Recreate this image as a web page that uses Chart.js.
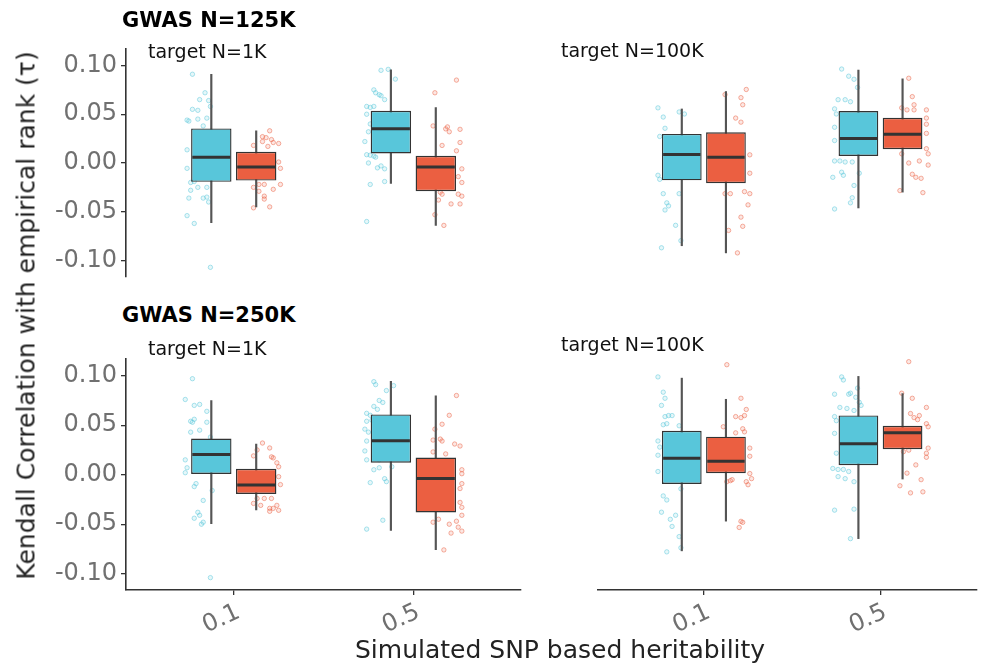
<!DOCTYPE html>
<html><head><meta charset="utf-8">
<script src="https://cdn.jsdelivr.net/npm/chart.js@4.4.1/dist/chart.umd.min.js"></script>
<style>
html,body{margin:0;padding:0;background:#fff;overflow:hidden;width:982px;height:665px;position:relative;}
canvas{position:absolute;}
.t{position:absolute;font-family:"DejaVu Sans",sans-serif;white-space:nowrap;}
.gw{font-size:21px;line-height:21px;font-weight:bold;color:#000;}
.tg{font-size:19px;line-height:19px;color:#111;}
.ax{font-size:25px;line-height:25px;color:#222;}
</style></head><body>
<canvas id="c1" width="526" height="265" style="left:0;top:30px"></canvas>
<canvas id="c2" width="389" height="265" style="left:593px;top:30px"></canvas>
<canvas id="c3" width="526" height="325" style="left:0;top:340px"></canvas>
<canvas id="c4" width="389" height="325" style="left:593px;top:340px"></canvas>
<div class="t gw" style="left:122px;top:10px">GWAS N=125K</div>
<div class="t gw" style="left:122px;top:305px">GWAS N=250K</div>
<div class="t tg" style="left:148px;top:42px">target N=1K</div>
<div class="t tg" style="left:561px;top:41px">target N=100K</div>
<div class="t tg" style="left:148px;top:339px">target N=1K</div>
<div class="t tg" style="left:561px;top:335px">target N=100K</div>
<div class="t ax" style="left:355px;top:637px">Simulated SNP based heritability</div>
<div class="t ax" style="left:-274px;top:303px;width:600px;text-align:center;transform:rotate(-90deg);">Kendall Correlation with empirical rank (τ)</div>
<script>
// ---- data ----
const heritability = ['0.1', '0.5'];
const xTickValues = [1, 2];
const yTicks = [-0.1, -0.05, 0, 0.05, 0.1];

// box stats per heritability: [lower whisker, Q1, median, Q3, upper whisker]
const box125K_1K_blue   = [[-0.0613, -0.0193, 0.0059, 0.0354, 0.091], [-0.021, 0.0098, 0.035, 0.0535, 0.0955]];
const box125K_1K_red    = [[-0.045, -0.018, -0.004, 0.0115, 0.033], [-0.064, -0.029, -0.004, 0.0073, 0.0568]];
const box125K_100K_blue = [[-0.081, -0.017, 0.0083, 0.0285, 0.0529], [-0.044, 0.0069, 0.024, 0.0509, 0.091]];
const box125K_100K_red  = [[-0.088, -0.0197, 0.0056, 0.030, 0.070], [-0.0285, 0.0135, 0.0282, 0.0443, 0.0824]];
const box250K_1K_blue   = [[-0.0494, 0.0007, 0.0205, 0.0365, 0.0749], [-0.0563, 0.0121, 0.0342, 0.0609, 0.0944]];
const box250K_1K_red    = [[-0.0357, -0.0195, -0.0104, 0.0059, 0.031], [-0.0758, -0.0381, -0.0039, 0.0173, 0.0798]];
const box250K_100K_blue = [[-0.078, -0.0123, 0.0131, 0.040, 0.0918], [-0.066, 0.0062, 0.0273, 0.0551, 0.0935]];
const box250K_100K_red  = [[-0.0488, -0.0016, 0.0101, 0.0342, 0.071], [-0.0074, 0.0219, 0.0381, 0.0449, 0.0766]];

// jittered observations: [offset from heritability position, tau]
const pts125K_1K_blue_h01 = [[-0.23,0.091],[-0.16,0.072],[-0.19,0.065],[-0.14,0.064],[-0.23,0.055],[-0.20,0.054],[-0.13,0.058],[-0.26,0.044],[-0.25,0.043],[-0.20,0.045],[-0.15,0.046],[-0.17,0.038],[-0.26,0.0135],[-0.26,-0.0055],[-0.24,-0.020],[-0.22,-0.019],[-0.20,-0.025],[-0.15,-0.025],[-0.24,-0.028],[-0.25,-0.036],[-0.17,-0.036],[-0.15,-0.035],[-0.14,-0.040],[-0.26,-0.054],[-0.22,-0.062],[-0.13,-0.107]];
const pts125K_1K_red_h01 = [[0.20,0.033],[0.16,0.027],[0.18,0.026],[0.21,0.024],[0.22,0.021],[0.25,0.020],[0.11,0.018],[0.16,0.022],[0.19,0.017],[0.26,-0.0055],[0.25,0.001],[0.11,-0.025],[0.14,-0.022],[0.17,-0.022],[0.22,-0.027],[0.26,-0.022],[0.17,-0.034],[0.17,-0.037],[0.11,-0.046],[0.20,-0.045],[0.14,-0.029]];
const pts125K_1K_blue_h05 = [[-0.18,0.095],[-0.14,0.096],[-0.10,0.086],[-0.22,0.075],[-0.21,0.072],[-0.19,0.070],[-0.18,0.069],[-0.16,0.065],[-0.26,0.058],[-0.24,0.057],[-0.22,0.058],[-0.26,0.050],[-0.24,0.040],[-0.25,0.032],[-0.27,0.022],[-0.26,0.0085],[-0.24,0.008],[-0.22,0.007],[-0.21,0.006],[-0.25,0.0],[-0.20,-0.005],[-0.18,-0.003],[-0.16,-0.006],[-0.16,-0.019],[-0.24,-0.022],[-0.26,-0.060]];
const pts125K_1K_red_h05 = [[0.24,0.085],[0.12,0.072],[0.11,0.038],[0.19,0.037],[0.18,0.035],[0.20,0.032],[0.26,0.0345],[0.26,0.021],[0.16,0.018],[0.24,0.0125],[0.27,-0.006],[0.25,-0.014],[0.27,-0.020],[0.15,-0.030],[0.16,-0.032],[0.25,-0.032],[0.27,-0.034],[0.14,-0.038],[0.21,-0.042],[0.26,-0.042],[0.12,-0.053],[0.17,-0.064]];
const pts125K_100K_blue_h01 = [[-0.26,0.054],[-0.23,0.045],[-0.14,0.050],[-0.11,0.048],[-0.22,0.034],[-0.25,0.026],[-0.26,-0.012],[-0.25,-0.016],[-0.23,-0.030],[-0.21,-0.039],[-0.20,-0.042],[-0.22,-0.046],[-0.16,-0.061],[-0.24,-0.083],[-0.13,-0.076],[-0.14,-0.030]];
const pts125K_100K_red_h01 = [[0.24,0.072],[0.12,0.067],[0.21,0.064],[0.22,0.057],[0.18,0.044],[0.21,0.040],[0.26,0.008],[0.26,-0.010],[0.12,-0.030],[0.15,-0.030],[0.23,-0.028],[0.26,-0.030],[0.25,-0.041],[0.21,-0.053],[0.22,-0.062],[0.14,-0.066],[0.19,-0.088]];
const pts125K_100K_blue_h05 = [[-0.22,0.092],[-0.18,0.085],[-0.15,0.082],[-0.13,0.074],[-0.24,0.062],[-0.20,0.062],[-0.17,0.060],[-0.26,0.053],[-0.25,0.048],[-0.26,0.035],[-0.26,0.022],[-0.26,0.002],[-0.23,0.002],[-0.20,0.001],[-0.16,0.001],[-0.22,-0.009],[-0.21,-0.012],[-0.27,-0.014],[-0.12,-0.010],[-0.15,-0.022],[-0.16,-0.034],[-0.17,-0.039],[-0.26,-0.045]];
const pts125K_100K_red_h05 = [[0.16,0.083],[0.18,0.065],[0.19,0.057],[0.12,0.054],[0.15,0.052],[0.19,0.052],[0.26,0.052],[0.26,0.044],[0.26,0.038],[0.26,0.029],[0.26,0.014],[0.27,0.009],[0.12,0.009],[0.16,0.000],[0.22,0.002],[0.27,-0.002],[0.18,-0.011],[0.20,-0.014],[0.23,-0.015],[0.11,-0.027],[0.24,-0.029]];
const pts250K_1K_blue_h01 = [[-0.23,0.097],[-0.27,0.076],[-0.22,0.070],[-0.19,0.071],[-0.15,0.064],[-0.24,0.054],[-0.23,0.053],[-0.22,0.056],[-0.15,0.053],[-0.24,0.043],[-0.19,0.045],[-0.13,0.038],[-0.27,0.015],[-0.26,0.007],[-0.27,0.002],[-0.21,-0.009],[-0.22,-0.012],[-0.12,-0.016],[-0.17,-0.026],[-0.20,-0.038],[-0.19,-0.041],[-0.22,-0.044],[-0.18,-0.050],[-0.17,-0.048],[-0.13,-0.104]];
const pts250K_1K_red_h01 = [[0.16,0.032],[0.13,0.025],[0.11,0.019],[0.20,0.027],[0.21,0.018],[0.22,0.017],[0.24,0.012],[0.25,0.008],[0.25,-0.002],[0.26,-0.010],[0.13,-0.024],[0.17,-0.024],[0.21,-0.024],[0.11,-0.029],[0.15,-0.031],[0.24,-0.031],[0.22,-0.034],[0.20,-0.034],[0.25,-0.036],[0.20,-0.037]];
const pts250K_1K_blue_h05 = [[-0.22,0.094],[-0.21,0.091],[-0.11,0.090],[-0.15,0.085],[-0.19,0.075],[-0.17,0.073],[-0.22,0.069],[-0.20,0.066],[-0.26,0.062],[-0.24,0.060],[-0.26,0.054],[-0.23,0.055],[-0.27,0.046],[-0.25,0.043],[-0.26,0.034],[-0.27,0.024],[-0.26,0.015],[-0.22,0.017],[-0.19,0.015],[-0.22,0.005],[-0.19,0.007],[-0.12,0.008],[-0.16,-0.004],[-0.15,-0.007],[-0.24,-0.008],[-0.17,-0.046],[-0.26,-0.055]];
const pts250K_1K_red_h05 = [[0.24,0.080],[0.20,0.060],[0.16,0.051],[0.12,0.046],[0.11,0.035],[0.15,0.036],[0.16,0.034],[0.23,0.031],[0.26,0.029],[0.11,0.023],[0.18,0.021],[0.27,0.005],[0.27,0.001],[0.27,-0.009],[0.26,-0.014],[0.26,-0.028],[0.27,-0.033],[0.27,-0.041],[0.11,-0.048],[0.14,-0.045],[0.20,-0.050],[0.24,-0.047],[0.25,-0.053],[0.27,-0.057],[0.21,-0.059],[0.17,-0.076]];
const pts250K_100K_blue_h01 = [[-0.26,0.093],[-0.23,0.078],[-0.22,0.072],[-0.24,0.065],[-0.22,0.054],[-0.20,0.055],[-0.18,0.055],[-0.23,0.046],[-0.21,0.047],[-0.14,0.045],[-0.26,0.030],[-0.25,0.024],[-0.26,0.016],[-0.26,0.000],[-0.23,-0.024],[-0.21,-0.028],[-0.24,-0.040],[-0.16,-0.043],[-0.19,-0.047],[-0.18,-0.054],[-0.14,-0.064],[-0.13,-0.075],[-0.21,-0.079],[-0.13,-0.017]];
const pts250K_100K_red_h01 = [[0.13,0.105],[0.21,0.072],[0.24,0.061],[0.18,0.054],[0.21,0.053],[0.23,0.055],[0.11,0.044],[0.22,0.042],[0.23,0.039],[0.18,0.038],[0.26,0.023],[0.26,0.015],[0.26,-0.002],[0.27,-0.007],[0.13,-0.010],[0.15,-0.009],[0.16,-0.008],[0.24,-0.010],[0.25,-0.013],[0.21,-0.049],[0.22,-0.050],[0.20,-0.055]];
const pts250K_100K_blue_h05 = [[-0.22,0.093],[-0.21,0.090],[-0.13,0.082],[-0.18,0.076],[-0.17,0.077],[-0.26,0.076],[-0.14,0.073],[-0.12,0.068],[-0.11,0.065],[-0.15,0.060],[-0.23,0.063],[-0.19,0.062],[-0.26,0.054],[-0.25,0.050],[-0.26,0.0375],[-0.25,0.018],[-0.27,0.003],[-0.24,0.002],[-0.21,0.002],[-0.18,0.000],[-0.24,-0.005],[-0.20,-0.007],[-0.15,-0.010],[-0.15,-0.037],[-0.26,-0.038],[-0.17,-0.066]];
const pts250K_100K_red_h05 = [[0.16,0.108],[0.12,0.077],[0.18,0.072],[0.17,0.057],[0.19,0.053],[0.21,0.051],[0.22,0.055],[0.26,0.063],[0.26,0.047],[0.27,0.044],[0.27,0.023],[0.26,0.018],[0.26,0.014],[0.13,0.0195],[0.16,0.021],[0.20,0.0065],[0.15,-0.0016],[0.23,-0.008],[0.11,-0.014],[0.17,-0.021],[0.24,-0.020]];

// ---- styling / drawing ----
Chart.defaults.font.family = '"DejaVu Sans", sans-serif';
const BLUE = 'rgb(88,198,218)', RED = 'rgb(235,95,65)';
const BLUE_PT_FILL = 'rgba(88,198,218,0.15)', BLUE_PT_LINE = 'rgba(88,198,218,0.55)';
const RED_PT_FILL = 'rgba(235,95,65,0.15)', RED_PT_LINE = 'rgba(235,95,65,0.55)';
const DODGE = 0.125;     // half distance between the two boxes (axis units)
const BOX_HALF = 0.1125; // half box width (axis units)

function jitterSet(arr, cat, fill, line) {
  return { type: 'scatter', order: 4, data: arr.map(([dx, y]) => ({ x: cat + dx, y })),
    pointRadius: 2.2, pointBackgroundColor: fill, pointBorderColor: line, pointBorderWidth: 0.9 };
}

function makePanel(id, boxBlue, boxRed, ptsBlue, ptsRed, showY, showX, xMax) {
  const datasets = [];
  ptsBlue.forEach((arr, i) => datasets.push(jitterSet(arr, xTickValues[i], BLUE_PT_FILL, BLUE_PT_LINE)));
  ptsRed.forEach((arr, i) => datasets.push(jitterSet(arr, xTickValues[i], RED_PT_FILL, RED_PT_LINE)));
  const whisk = [];
  boxBlue.forEach((b, i) => whisk.push({ x: xTickValues[i] - DODGE, y: [b[0], b[4]] }));
  boxRed.forEach((b, i) => whisk.push({ x: xTickValues[i] + DODGE, y: [b[0], b[4]] }));
  datasets.push({ type: 'bar', order: 3, grouped: false, barThickness: 1.5, backgroundColor: '#555', borderWidth: 0, data: whisk });
  datasets.push({ type: 'bar', order: 2, grouped: false, categoryPercentage: 1, barPercentage: 0.9,
    backgroundColor: BLUE, borderColor: '#333', borderWidth: 1.4, borderSkipped: false,
    data: boxBlue.map((b, i) => ({ x: xTickValues[i] - DODGE, y: [b[1], b[3]] })) });
  datasets.push({ type: 'bar', order: 2, grouped: false, categoryPercentage: 1, barPercentage: 0.9,
    backgroundColor: RED, borderColor: '#333', borderWidth: 1.4, borderSkipped: false,
    data: boxRed.map((b, i) => ({ x: xTickValues[i] + DODGE, y: [b[1], b[3]] })) });
  const med = [];
  boxBlue.forEach((b, i) => med.push({ x: xTickValues[i] - DODGE, y: b[2] }));
  boxRed.forEach((b, i) => med.push({ x: xTickValues[i] + DODGE, y: b[2] }));
  datasets.push({ type: 'scatter', order: 1, data: med, pointStyle: 'line',
    pointRadius: (c) => { const s = c.chart.scales.x; return Math.abs(s.getPixelForValue(BOX_HALF) - s.getPixelForValue(0)) - 1.2; },
    pointBorderColor: '#333', pointBorderWidth: 3 });

  new Chart(document.getElementById(id), {
    type: 'bar',
    data: { datasets },
    options: {
      responsive: false, animation: false, events: [],
      layout: { padding: showX ? { top: 12, bottom: 0, left: 0, right: 0 } : { top: 13, bottom: 13, left: 0, right: 0 } },
      plugins: { legend: { display: false }, tooltip: { enabled: false } },
      scales: {
        x: {
          type: 'linear', min: 0.4, max: xMax, offset: false, display: showX,
          grid: { display: true, offset: false, drawOnChartArea: false, drawTicks: true, tickLength: 5, color: '#333', lineWidth: 1.3 },
          border: { display: true, color: '#333', width: 1.6 },
          afterBuildTicks: (s) => { s.ticks = xTickValues.map(v => ({ value: v })); },
          afterFit: (s) => { if (showX) s.height = 75; },
          ticks: { autoSkip: false, minRotation: 25, maxRotation: 25, padding: 3, labelOffset: 5, color: '#707070',
            font: { size: 24 }, callback: (v, i) => heritability[i] }
        },
        y: {
          type: 'linear', min: -0.1165, max: 0.1175, display: showY,
          grid: { display: true, drawOnChartArea: false, drawTicks: true, tickLength: 5, color: '#333', lineWidth: 1.3 },
          border: { display: true, color: '#333', width: 1.6 },
          afterBuildTicks: (s) => { s.ticks = yTicks.map(v => ({ value: v })); },
          afterFit: (s) => { if (showY) s.width = 126; },
          ticks: { padding: 4, color: '#707070', font: { size: 24 }, callback: (v) => v.toFixed(2) }
        }
      }
    }
  });
}

makePanel('c1', box125K_1K_blue, box125K_1K_red, [pts125K_1K_blue_h01, pts125K_1K_blue_h05], [pts125K_1K_red_h01, pts125K_1K_red_h05], true, false, 2.6);
makePanel('c2', box125K_100K_blue, box125K_100K_red, [pts125K_100K_blue_h01, pts125K_100K_blue_h05], [pts125K_100K_red_h01, pts125K_100K_red_h05], false, false, 2.547);
makePanel('c3', box250K_1K_blue, box250K_1K_red, [pts250K_1K_blue_h01, pts250K_1K_blue_h05], [pts250K_1K_red_h01, pts250K_1K_red_h05], true, true, 2.6);
makePanel('c4', box250K_100K_blue, box250K_100K_red, [pts250K_100K_blue_h01, pts250K_100K_blue_h05], [pts250K_100K_red_h01, pts250K_100K_red_h05], false, true, 2.547);
</script>
</body></html>
